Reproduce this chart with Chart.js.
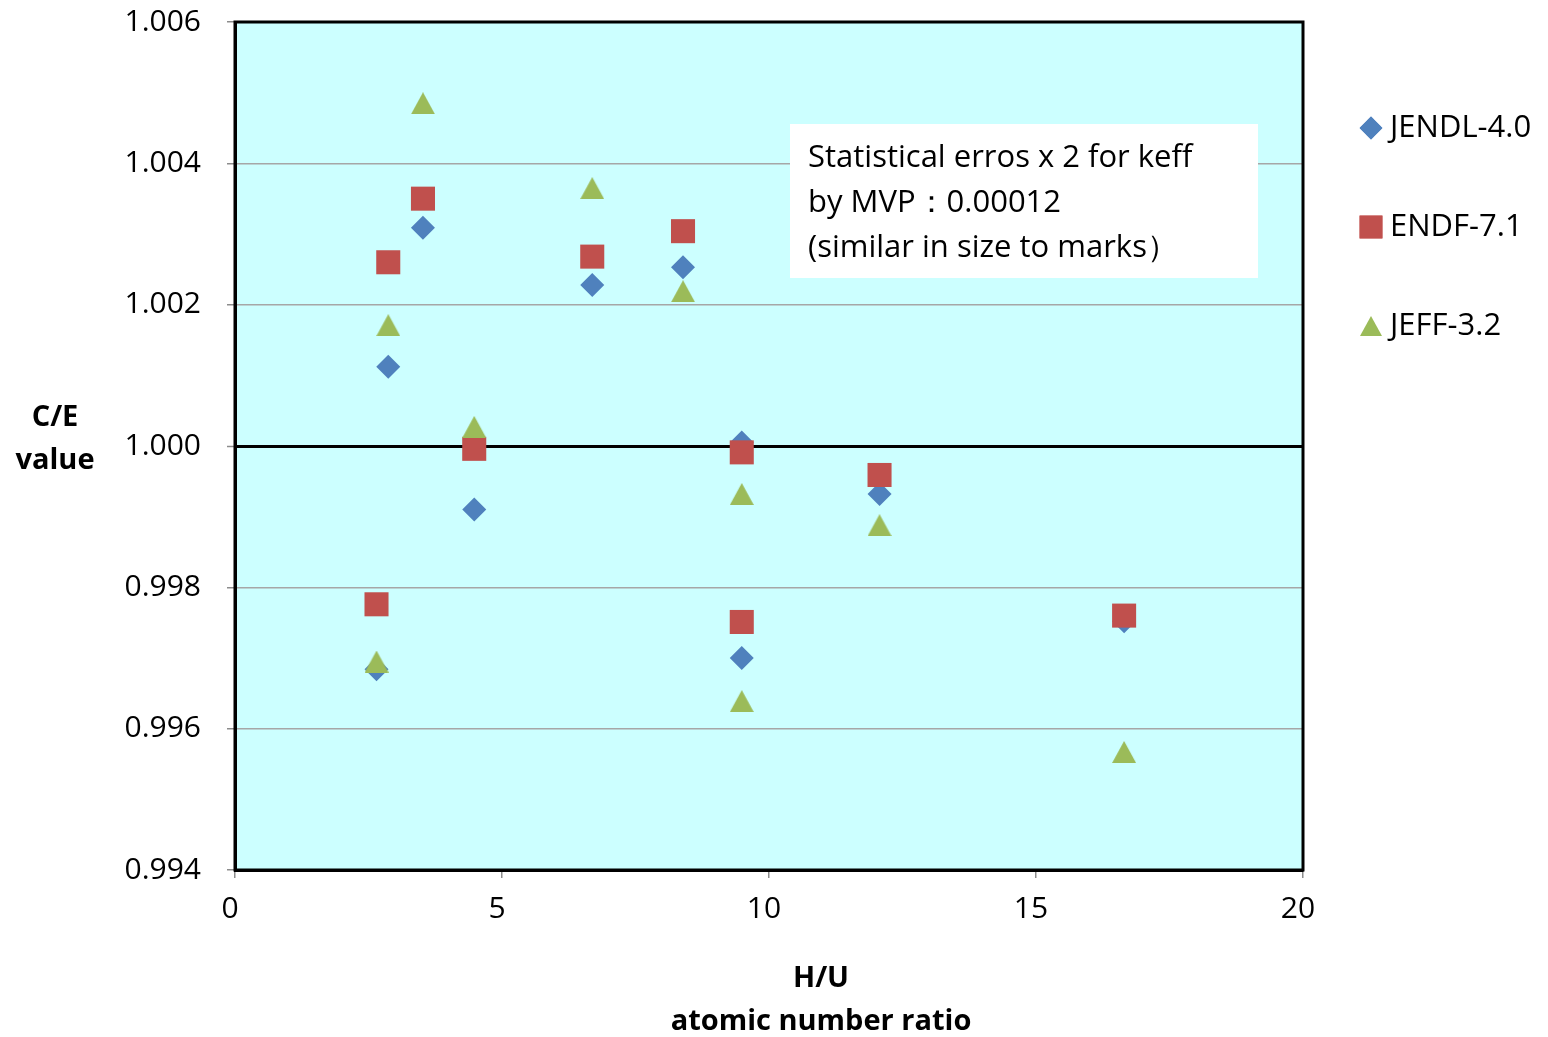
<!DOCTYPE html>
<html>
<head>
<meta charset="utf-8">
<script src="https://cdn.jsdelivr.net/npm/chart.js@4/dist/chart.umd.min.js"></script>
<style>
  html, body { margin: 0; padding: 0; background: #fff; }
  #wrap { width: 1548px; height: 1037px; }
</style>
</head>
<body>
<div id="wrap"><canvas id="chart" width="1548" height="1037"></canvas></div>
<script>
// H/U atomic number ratio of each measured core
const huRatio = [2.65, 2.87, 3.52, 4.48, 6.69, 8.39, 9.49, 9.49, 12.07, 16.65];
// C/E values per library
const jendl = [0.99684, 1.00112, 1.00309, 0.99910, 1.00228, 1.00253, 1.00005, 0.99700, 0.99932, 0.99752];
const endf  = [0.99776, 1.00260, 1.00350, 0.99996, 1.00268, 1.00304, 0.99991, 0.99751, 0.99959, 0.99760];
const jeff  = [0.99695, 1.00171, 1.00485, 1.00027, 1.00365, 1.00219, 0.99932, 0.99639, 0.99888, 0.99567];

const seriesNames = ['JENDL-4.0', 'ENDF-7.1', 'JEFF-3.2'];
const seriesColors = ['#4F81BD', '#C0504D', '#9BBB59'];
const noteLines = ['Statistical erros x 2 for keff', 'by MVP\uFF1A0.00012', '(similar in size to marks\uFF09'];

const FONT = '"Open Sans", "Noto Sans", sans-serif';

function toPoints(ys) {
    return huRatio.map((x, i) => ({ x: x, y: ys[i] }));
}

// Excel style triangle, centred on its bounding box
function triangleImage(w, h, color) {
    const c = document.createElement('canvas');
    c.width = w;
    c.height = h;
    const g = c.getContext('2d');
    g.fillStyle = color;
    g.beginPath();
    g.moveTo(w / 2, 0);
    g.lineTo(w, h);
    g.lineTo(0, h);
    g.closePath();
    g.fill();
    return c;
}

const markers = [
    { style: 'rectRot', radius: 12 },
    { style: 'rect', radius: 17 },
    { style: triangleImage(24, 22, seriesColors[2]), radius: 12 }
];

// later series are drawn on top, like Excel does
const datasets = [jendl, endf, jeff].map((ys, i) => ({
    label: seriesNames[i],
    data: toPoints(ys),
    order: 3 - i,
    showLine: false,
    pointStyle: markers[i].style,
    pointRadius: markers[i].radius,
    pointHoverRadius: markers[i].radius,
    pointBackgroundColor: seriesColors[i],
    pointBorderColor: seriesColors[i],
    pointBorderWidth: 0
}));

// background, frame, note box, legend and axis titles
const decorPlugin = {
    id: 'decor',
    beforeDraw(chart) {
        const { ctx, chartArea: a } = chart;
        ctx.save();
        ctx.fillStyle = '#CCFFFF';
        ctx.fillRect(a.left, a.top, a.right - a.left, a.bottom - a.top);
        ctx.restore();
    },
    afterDraw(chart) {
        const { ctx, chartArea: a } = chart;
        ctx.save();
        ctx.strokeStyle = '#000';
        ctx.lineWidth = 3;
        ctx.strokeRect(a.left, a.top, a.right - a.left, a.bottom - a.top);

        // note box
        ctx.fillStyle = '#fff';
        ctx.fillRect(790, 124, 468, 154);
        ctx.fillStyle = '#000';
        ctx.font = '31px ' + FONT;
        ctx.textBaseline = 'middle';
        ctx.textAlign = 'left';
        noteLines.forEach((t, i) => ctx.fillText(t, 808, 158 + i * 45));

        // legend
        ctx.font = '31px ' + FONT;
        const legendStyles = ['rectRot', 'rect', triangleImage(22, 20, seriesColors[2])];
        seriesNames.forEach((name, i) => {
            const y = 128 + i * 99;
            ctx.fillStyle = seriesColors[i];
            ctx.beginPath();
            Chart.helpers.drawPoint(ctx, { pointStyle: legendStyles[i], radius: markers[i].radius * 0.95, borderWidth: 0 }, 1371, y);
            ctx.fill();
            ctx.fillStyle = '#000';
            ctx.fillText(name, 1390, y);
        });

        // axis titles
        ctx.font = 'bold 29px ' + FONT;
        ctx.textAlign = 'center';
        ctx.fillText('C/E', 55, 418);
        ctx.fillText('value', 55, 461);
        ctx.fillText('H/U', 821, 979);
        ctx.fillText('atomic number ratio', 821, 1022);
        ctx.restore();
    }
};

new Chart(document.getElementById('chart'), {
    type: 'scatter',
    data: { datasets },
    options: {
        responsive: false,
        animation: false,
        events: [],
        layout: { padding: { left: 0, top: 22, right: 245, bottom: 0 } },
        plugins: {
            legend: { display: false },
            tooltip: { enabled: false }
        },
        scales: {
            x: {
                type: 'linear',
                min: 0,
                max: 20,
                ticks: {
                    stepSize: 5,
                    padding: 13,
                    labelOffset: -5,
                    color: '#000',
                    font: { family: FONT, size: 30 }
                },
                grid: {
                    drawOnChartArea: false,
                    tickLength: 8,
                    color: '#8C8C8C',
                    lineWidth: 1.5
                },
                border: { display: true, color: '#000', width: 3 },
                afterFit(scale) {
                    scale.height = 167;
                    scale.paddingLeft = 0;
                    scale.paddingRight = 0;
                }
            },
            y: {
                type: 'linear',
                min: 0.994,
                max: 1.006,
                ticks: {
                    stepSize: 0.002,
                    padding: 26,
                    color: '#000',
                    font: { family: FONT, size: 30 },
                    callback: v => v.toFixed(3)
                },
                grid: {
                    tickLength: 8,
                    color: c => Math.abs(c.tick.value - 1) < 1e-6 ? '#000' : '#A6A6A6',
                    lineWidth: c => Math.abs(c.tick.value - 1) < 1e-6 ? 3 : 1.5,
                    tickColor: '#8C8C8C',
                    tickWidth: 1.5
                },
                border: { display: true, color: '#000', width: 3 },
                afterFit(scale) {
                    scale.width = 235;
                    scale.paddingTop = 0;
                    scale.paddingBottom = 0;
                }
            }
        }
    },
    plugins: [decorPlugin]
});
</script>
</body>
</html>
